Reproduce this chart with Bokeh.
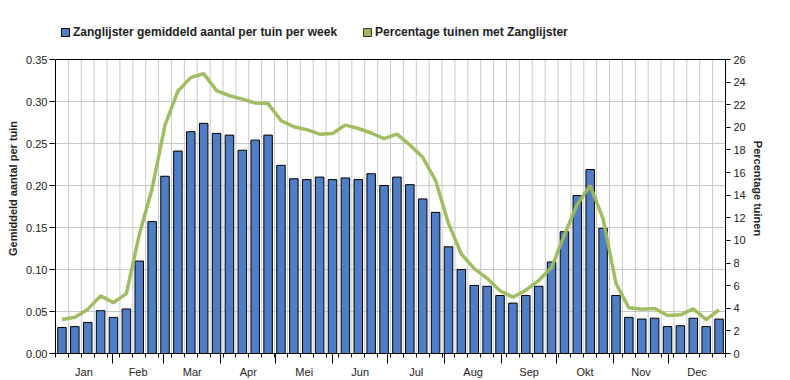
import numpy as np
from bokeh.plotting import figure
from bokeh.models import (LinearAxis, Range1d, FixedTicker, Legend, LegendItem, Span,
                          NumeralTickFormatter, CustomJSTickFormatter)
from bokeh.embed import file_html
from bokeh.resources import INLINE

# ---- data ----
weeks = list(range(1, 53))
aantal = [0.031, 0.032, 0.037, 0.051, 0.043, 0.053, 0.110, 0.157, 0.211, 0.241,
          0.264, 0.274, 0.262, 0.260, 0.242, 0.254, 0.260, 0.224, 0.208, 0.207,
          0.210, 0.207, 0.209, 0.207, 0.214, 0.200, 0.210, 0.201, 0.184, 0.168,
          0.127, 0.100, 0.081, 0.080, 0.069, 0.060, 0.069, 0.080, 0.109, 0.145,
          0.188, 0.219, 0.149, 0.069, 0.043, 0.041, 0.042, 0.032, 0.033, 0.042,
          0.032, 0.041]
percentage = [3.0, 3.2, 3.9, 5.1, 4.5, 5.3, 10.5, 14.6, 20.2, 23.2,
              24.4, 24.75, 23.25, 22.8, 22.5, 22.15, 22.1, 20.6, 20.05, 19.8,
              19.4, 19.45, 20.2, 19.9, 19.5, 19.0, 19.4, 18.45, 17.35, 15.3,
              11.5, 8.8, 7.5, 6.65, 5.55, 4.98, 5.6, 6.45, 7.6, 10.5,
              13.2, 14.85, 11.9, 6.2, 4.05, 3.92, 3.98, 3.36, 3.42, 3.95,
              3.0, 3.86]
months = ["Jan", "Feb", "Mar", "Apr", "Mei", "Jun", "Jul", "Aug", "Sep", "Okt", "Nov", "Dec"]
month_days = [31, 28, 31, 30, 31, 30, 31, 31, 30, 31, 30, 31]
left_ticks = [0.0, 0.05, 0.10, 0.15, 0.20, 0.25, 0.30, 0.35]
right_ticks = list(range(0, 27, 2))

BLUE = "#4F7EC6"
GREEN = "#9BBB59"
GRID = "#c8c8c8"
FONT = "Liberation Sans"
TXT = "#222222"

# layout: the frame also holds the legend strip above the plotting area
TOP = 23          # frame top (px)
FRAME_H = 330     # frame height (px)
PLOT_H = 294      # height of the 0..0.35 area (px)
stretch = FRAME_H / PLOT_H

x = [w - 0.5 for w in weeks]
cum = np.cumsum([0] + month_days) * 52.0 / 365.0
boundaries = [float(v) for v in cum[1:12]]
centers = [float((cum[i] + cum[i + 1]) / 2) for i in range(12)]
week_edges = list(range(1, 52))

ymax = left_ticks[-1]
rmax = right_ticks[-1]

p = figure(width=790, height=380, x_range=Range1d(0, 52), y_range=Range1d(0, ymax * stretch),
           output_backend="svg", toolbar_location=None,
           min_border_left=55, min_border_right=65, min_border_top=TOP, min_border_bottom=27)
p.extra_y_ranges = {"pct": Range1d(0, rmax * stretch)}
p.outline_line_color = None
p.xgrid.visible = False
p.ygrid.ticker = FixedTicker(ticks=left_ticks[:-1])
p.ygrid.grid_line_color = GRID

# vertical week grid lines limited to the plotting area
p.segment(x0=week_edges, y0=[left_ticks[0]] * len(week_edges),
          x1=week_edges, y1=[ymax] * len(week_edges), line_color=GRID, line_width=1)

# top border
p.add_layout(Span(location=ymax, dimension="width", line_color="black", line_width=1))

# bottom axis A: month boundary ticks + week minor ticks (labels not painted)
xa = p.xaxis[0]
xa.ticker = FixedTicker(ticks=boundaries, minor_ticks=list(range(0, 53)))
xa.major_tick_out = 10
xa.major_tick_in = 0
xa.minor_tick_out = 4
xa.minor_tick_in = 0
xa.major_label_text_font_size = "1px"
xa.major_label_text_color = None
xa.major_label_standoff = 0
xa.axis_line_color = "black"
xa.major_tick_line_color = "black"
xa.minor_tick_line_color = "black"

# bottom axis B: month labels
xb = LinearAxis(ticker=FixedTicker(ticks=centers),
                formatter=CustomJSTickFormatter(args=dict(labels=months), code="return labels[index];"))
xb.axis_line_color = None
xb.major_tick_line_color = None
xb.minor_tick_line_color = None
xb.major_tick_out = 0
xb.major_tick_in = 0
xb.major_label_standoff = 2
xb.major_label_text_font = FONT
xb.major_label_text_font_size = "11px"
xb.major_label_text_color = TXT
p.add_layout(xb, "below")

# left axis
ya = p.yaxis[0]
ya.bounds = (0, ymax)
ya.ticker = FixedTicker(ticks=left_ticks)
ya.formatter = NumeralTickFormatter(format="0.00")
ya.axis_label = "Gemiddeld aantal per tuin"
ya.axis_label_text_font = FONT
ya.axis_label_text_font_style = "bold"
ya.axis_label_text_font_size = "11px"
ya.axis_label_text_color = TXT
ya.axis_label_standoff = 4
ya.major_label_text_font = FONT
ya.major_label_text_font_size = "11px"
ya.major_label_text_color = TXT
ya.major_label_standoff = 2
ya.major_tick_out = 6
ya.major_tick_in = 0
ya.minor_tick_line_color = None

# right axis
yr = LinearAxis(y_range_name="pct", ticker=FixedTicker(ticks=right_ticks),
                axis_label="Percentage tuinen", bounds=(0, rmax))
yr.axis_label_text_font = FONT
yr.axis_label_text_font_style = "bold"
yr.axis_label_text_font_size = "11px"
yr.axis_label_text_color = TXT
yr.axis_label_standoff = 3
yr.major_label_text_font = FONT
yr.major_label_text_font_size = "11px"
yr.major_label_text_color = TXT
yr.major_label_standoff = 3
yr.major_tick_out = 5
yr.major_tick_in = 0
yr.minor_tick_line_color = None
p.add_layout(yr, "right")

# glyphs
bars = p.vbar(x=x, top=aantal, width=0.66, fill_color=BLUE, line_color="black", line_width=1)
line = p.line(x, percentage, y_range_name="pct", line_color=GREEN, line_width=3.5, line_alpha=0.95)
green_key = p.vbar(x=[np.nan], top=[np.nan], width=0.66, fill_color=GREEN, line_color="#333333", line_width=1)

# legend strip: bottom edge 39px from the top of the canvas
legend_bottom = (TOP + FRAME_H) - 39
legend = Legend(items=[LegendItem(label="Zanglijster gemiddeld aantal per tuin per week", renderers=[bars]),
                       LegendItem(label="Percentage tuinen met Zanglijster", renderers=[green_key])],
                orientation="horizontal", location=(5, legend_bottom),
                glyph_width=10, glyph_height=10, label_height=14,
                label_text_font=FONT, label_text_font_style="bold", label_text_font_size="12px",
                label_text_color=TXT, label_standoff=3, spacing=25,
                padding=0, margin=0, border_line_color=None, background_fill_alpha=0)
p.add_layout(legend)

open("out.html", "w").write(file_html(p, INLINE))
